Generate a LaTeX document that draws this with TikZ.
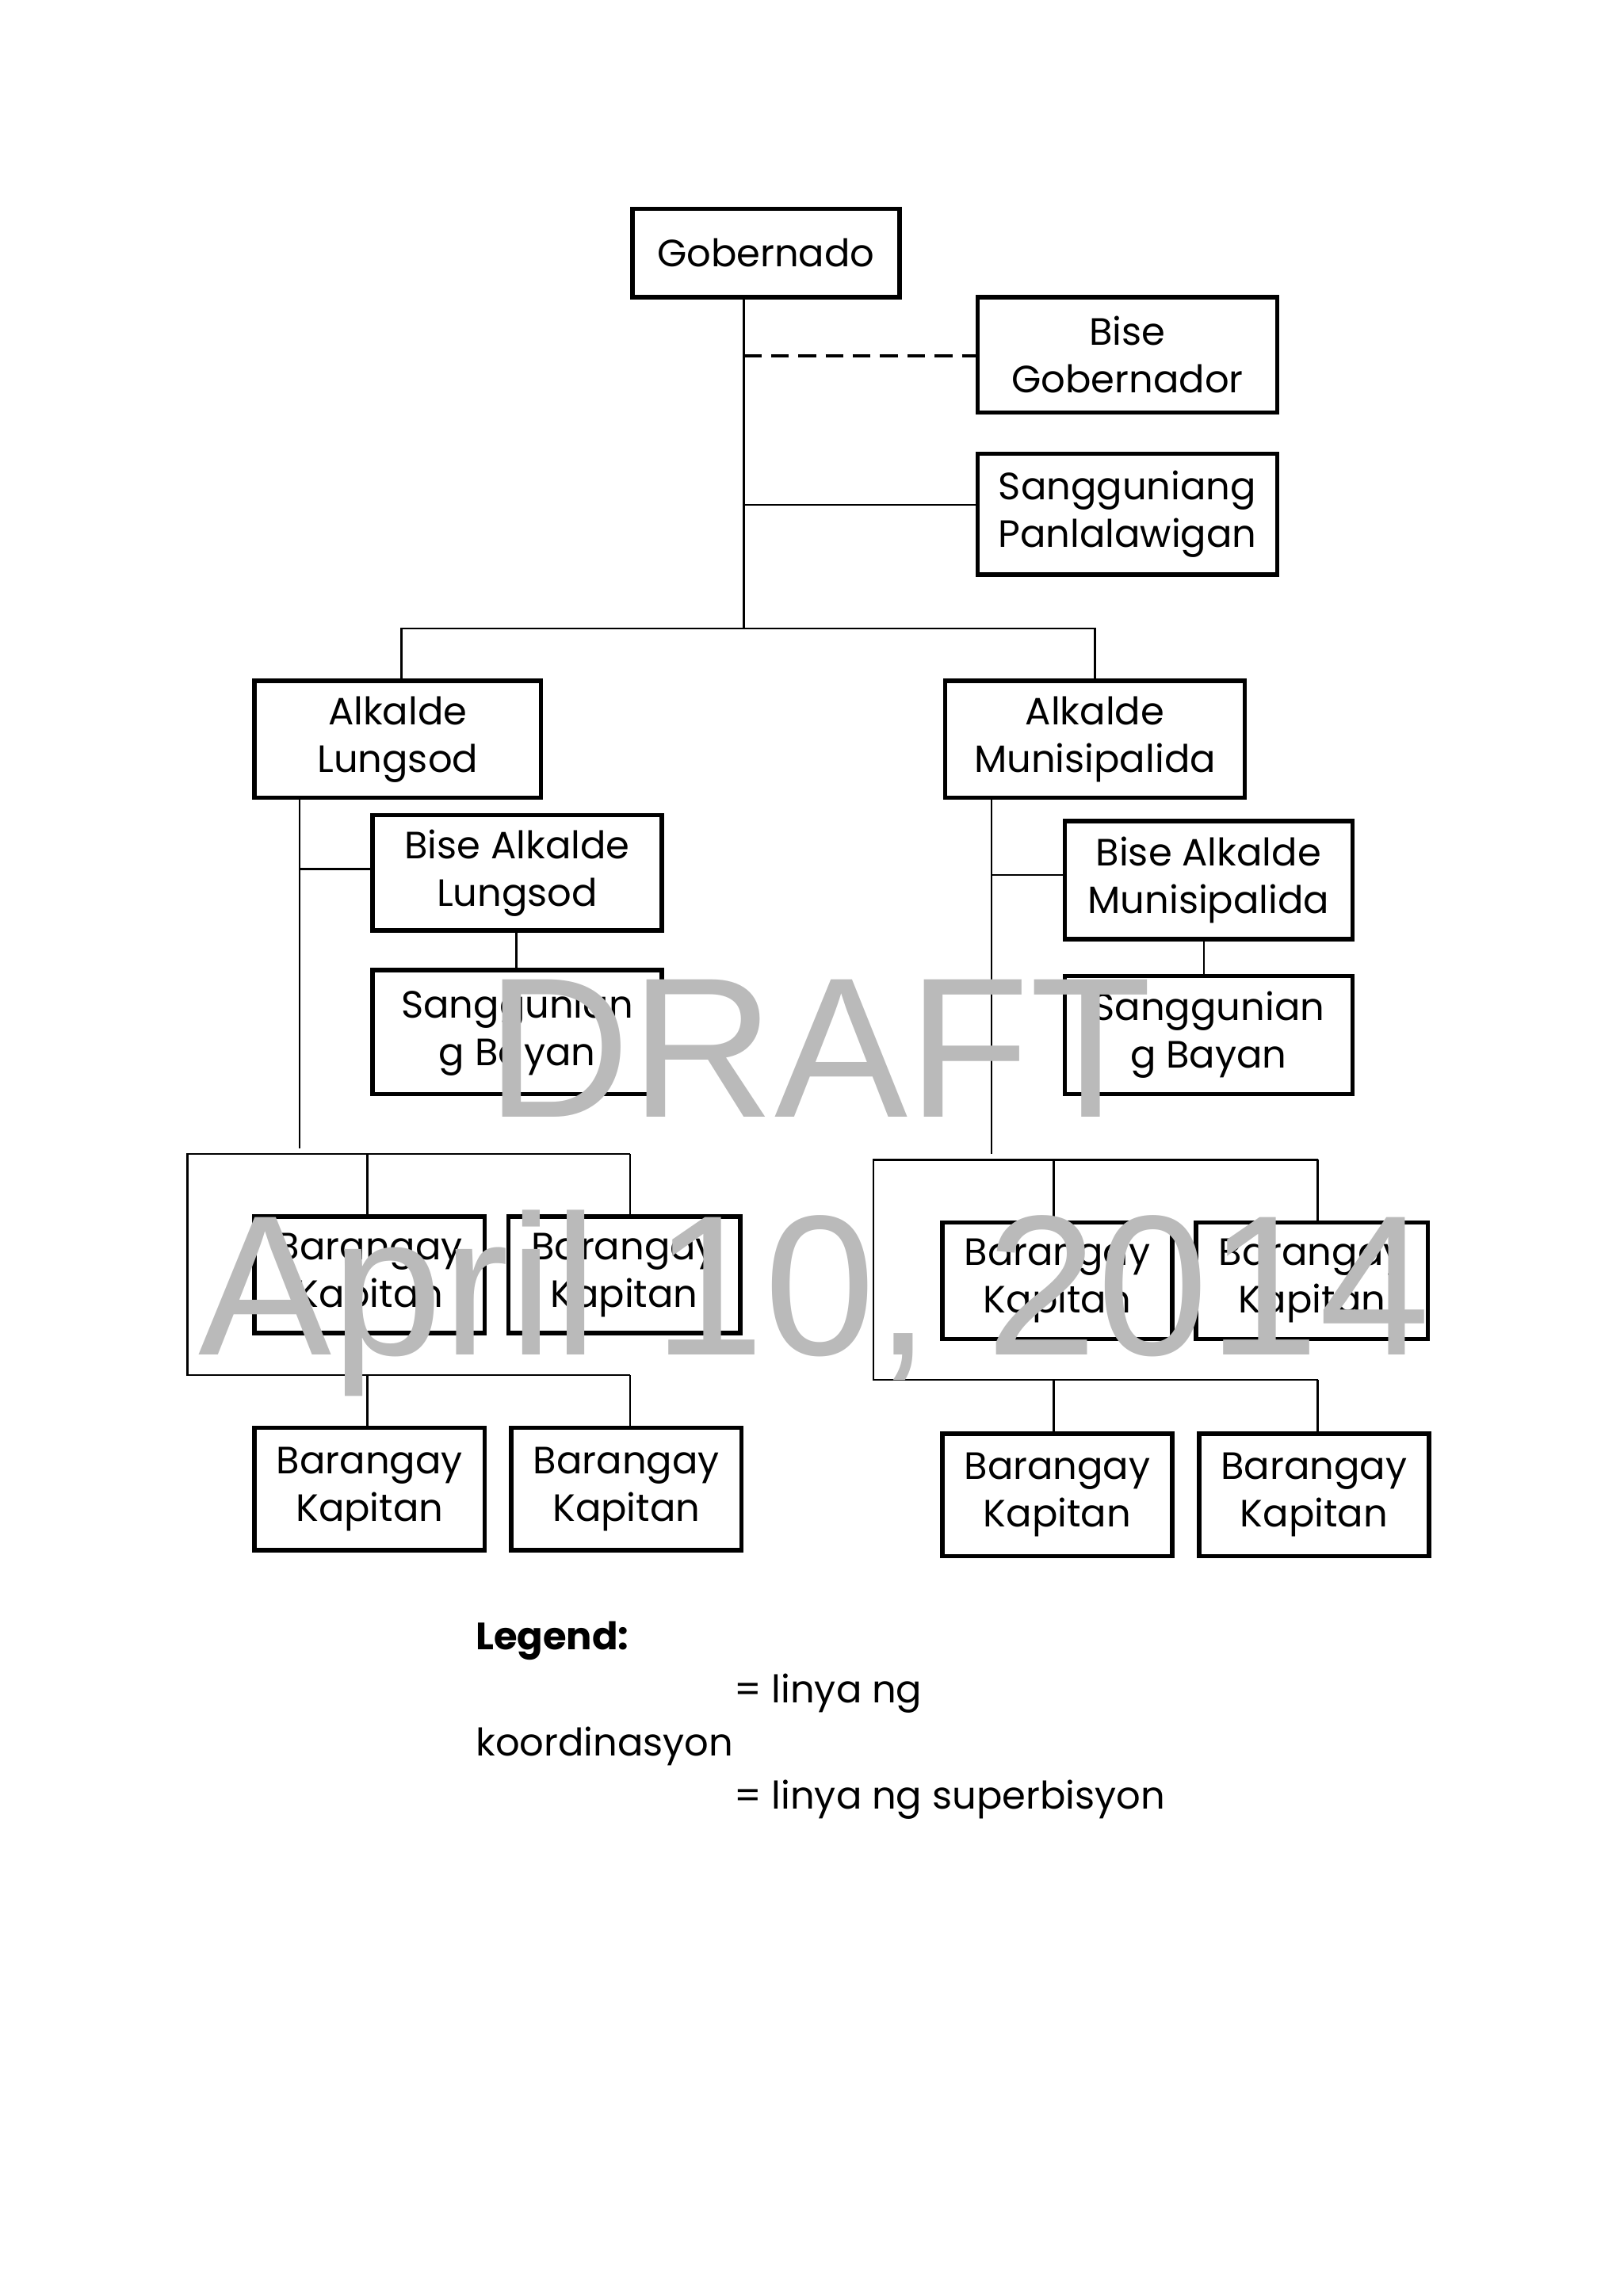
\documentclass[tikz,border=0pt]{standalone}
\usepackage{fontspec}
\setmainfont{Poppins}
\newfontfamily\wm{Liberation Sans}
\begin{document}
\begin{tikzpicture}[x=0.4655pt,y=-0.4655pt,
  bx/.style={draw,line width=1.4pt,align=center,inner sep=0pt,font=\fontsize{12}{15}\selectfont},
  ln/.style={line width=0.6pt},
  tx/.style={anchor=base west,inner sep=0pt,font=\fontsize{12}{15}\selectfont}]
\useasboundingbox (0,0) rectangle (1100,1556);
\newcommand{\bxn}[6]{\node[bx,minimum width={(#4-#2)*0.4655pt-1.4pt},minimum height={(#5-#3)*0.4655pt-1.4pt}] (#1) at ({(#2+#4)/2},{(#3+#5)/2}) {#6};}
\bxn{gob}{427}{140}{611}{203}{Gobernado}
\bxn{bg}{661}{200}{867}{281}{Bise\\Gobernador}
\bxn{sp}{661}{306}{867}{391}{Sangguniang\\Panlalawigan}
\bxn{al}{171}{460}{368}{542}{Alkalde\\Lungsod}
\bxn{am}{639}{460}{845}{542}{Alkalde\\Munisipalida}
\bxn{bal}{251}{551}{450}{632}{Bise Alkalde\\Lungsod}
\bxn{sbl}{251}{656}{450}{743}{Sanggunian\\g Bayan}
\bxn{bam}{720}{555}{918}{638}{Bise Alkalde\\Munisipalida}
\bxn{sbm}{720}{660}{918}{743}{Sanggunian\\g Bayan}
\bxn{b1}{171}{823}{330}{905}{Barangay\\Kapitan}
\bxn{b2}{343}{823}{503}{905}{Barangay\\Kapitan}
\bxn{b3}{171}{966}{330}{1052}{Barangay\\Kapitan}
\bxn{b4}{345}{966}{504}{1052}{Barangay\\Kapitan}
\bxn{b5}{637}{827}{796}{909}{Barangay\\Kapitan}
\bxn{b6}{809}{827}{969}{909}{Barangay\\Kapitan}
\bxn{b7}{637}{970}{796}{1056}{Barangay\\Kapitan}
\bxn{b8}{811}{970}{970}{1056}{Barangay\\Kapitan}
% top
\coordinate (m1) at (504,426);
\draw[ln] (504,203) -- (m1);
\draw[line width=1pt,dash pattern=on 5.6pt off 3pt] (504,241) -- (504,241 -| bg.west);
\draw[ln] (504,342) -- (504,342 -| sp.west);
\draw[ln] (272,460) |- (m1) -| (am.north);
% left
\coordinate (lb) at (203,778);
\draw[ln] (203,540) -- (lb);
\draw[ln] (203,589) -- (203,589 -| bal.west);
\draw[ln] (350,632) -- (350,656);
\draw[ln] (427,782) -- (127,782) -- (127,932) -- (427,932);
\draw[ln] (249,782) -- (249,823);
\draw[ln] (427,782) -- (427,823);
\draw[ln] (249,932) -- (249,966);
\draw[ln] (427,932) -- (427,966);
% right
\draw[ln] (672,542) -- (672,782);
\draw[ln] (672,593) -- (672,593 -| bam.west);
\draw[ln] (816,638) -- (816,660);
\draw[ln] (893,786) -- (592,786) -- (592,935) -- (893,935);
\draw[ln] (714,786) -- (714,827);
\draw[ln] (893,786) -- (893,827);
\draw[ln] (714,935) -- (714,970);
\draw[ln] (893,935) -- (893,970);
% legend
\node[tx,font=\fontsize{12}{15}\selectfont\bfseries] (lg) at (322,1118) {Legend:};
\node[tx] (l1) at (497,1154) {= linya ng};
\node[tx] (l2) at (322,1190) {koordinasyon};
\node[tx] (l3) at (497,1226) {= linya ng superbisyon};
% watermark
\node[anchor=base,inner sep=0pt,text=black!27,font=\wm\fontsize{63}{63}\selectfont] (w1) at (555,757) {DRAFT};
\node[anchor=base,inner sep=0pt,text=black!27,font=\wm\fontsize{63}{63}\selectfont] (w2) at (552,918) {April 10, 2014};
\end{tikzpicture}
\end{document}
